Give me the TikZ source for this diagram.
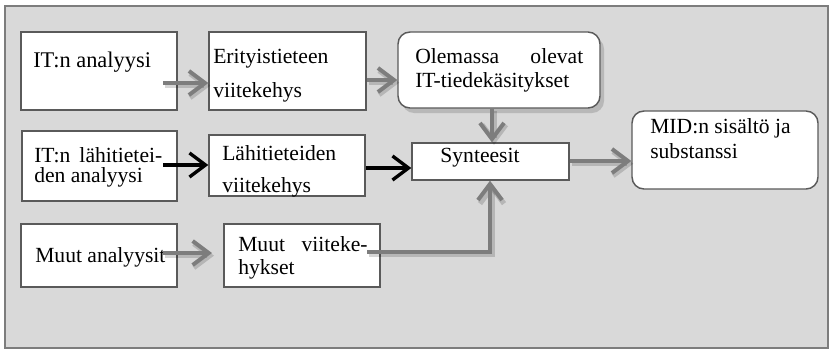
\documentclass[tikz,border=0pt]{standalone}
\usepackage{fontspec}
\setmainfont{Liberation Serif}
\usetikzlibrary{arrows.meta,fit}
\definecolor{panel}{RGB}{217,217,217}
\definecolor{edge}{RGB}{90,90,90}
\definecolor{flow}{RGB}{125,125,125}
\begin{document}
\begin{tikzpicture}[x=0.75pt,y=-0.75pt,
  box/.style={draw=edge, line width=1.1pt, fill=white, inner sep=0pt},
  rbox/.style={box, rounded corners=9pt},
  txt/.style={anchor=base west, inner sep=0pt, font=\fontsize{16.2}{19}\selectfont},
  tip/.style={-{Straight Barb[length=12pt,width=18pt]}},
  grayflow/.style={draw=flow, line width=3pt, tip,
    preaction={draw=black, opacity=0.16, line width=3.8pt,
      transform canvas={shift={(1.5pt,-2pt)}}}},
  blackflow/.style={draw=black, line width=2.5pt, tip}]
\useasboundingbox (0,0) rectangle (838,350);

% panel
\node[fit={(5,6) (828,348)}, draw=flow, fill=panel, line width=0.8pt, inner sep=0pt] (frame) {};

% boxes
\node[box, fit={(21,32) (177,110)}] (b1) {};
\node[box, fit={(209,32) (366,110)}] (b2) {};
\fill[black, opacity=0.15, rounded corners=9pt] (402,37) rectangle (604,113);
\node[rbox, fit={(398,32) (600,108)}] (b3) {};
\node[box, fit={(22,131) (177,201)}] (b4) {};
\node[box, fit={(209,135) (365,196)}] (b5) {};
\node[box, fit={(412,143) (569,180)}] (b6) {};
\node[rbox, fit={(632,111) (818,189)}] (b7) {};
\node[box, fit={(21,224) (177,287)}] (b8) {};
\node[box, fit={(224,224) (380,287)}] (b9) {};

% texts
\node[txt, font=\fontsize{16.8}{20}\selectfont] (t1) at (33,67) {IT:n analyysi};
\node[txt] (t2a) at (213,63) {Erityistieteen};
\node[txt] (t2b) at (213,97) {viitekehys};
\node[txt] (t3a) at (415,63) {\makebox[126pt][s]{Olemassa\hfill olevat}};
\node[txt] (t3b) at (415,87) {IT-tiedekäsitykset};
\node[txt] (t4a) at (34,162) {\makebox[96pt][s]{IT:n\hfill lähitietei-}};
\node[txt] (t4b) at (34,182) {den analyysi};
\node[txt] (t5a) at (222,160) {Lähitieteiden};
\node[txt] (t5b) at (222,192) {viitekehys};
\node[txt, anchor=base] (t6) at (480,162) {Synteesit};
\node[txt] (t7a) at (650,133) {MID:n sisältö ja};
\node[txt] (t7b) at (650,158) {substanssi};
\node[txt] (t8) at (35,262) {Muut analyysit};
\node[txt] (t9a) at (238,251) {\makebox[97pt][s]{Muut\hfill viiteke-}};
\node[txt] (t9b) at (238,274) {hykset};

% connectors
\coordinate (s1) at (163,83);
\draw[grayflow] (s1) -- (s1 -| b2.west);
\draw[grayflow] (b2.east |- 0,80) -- (b3.west |- 0,80);
\draw[grayflow] (b3.south -| 492,0) -- (b6.north -| 492,0);
\coordinate (s4) at (163,165);
\draw[blackflow] (s4) -- (s4 -| b5.west);
\draw[blackflow] (b5.east |- 0,168) -- (b6.west |- 0,168);
\draw[grayflow] (b6.east |- 0,161) -- (b7.west |- 0,161);
\coordinate (s7) at (163,253);
\coordinate (e7) at (212,253);
\draw[grayflow] (s7) -- (e7);
\coordinate (s8) at (367,252);
\draw[grayflow] (s8) -| (b6.south -| 490,0);
\end{tikzpicture}
\end{document}
